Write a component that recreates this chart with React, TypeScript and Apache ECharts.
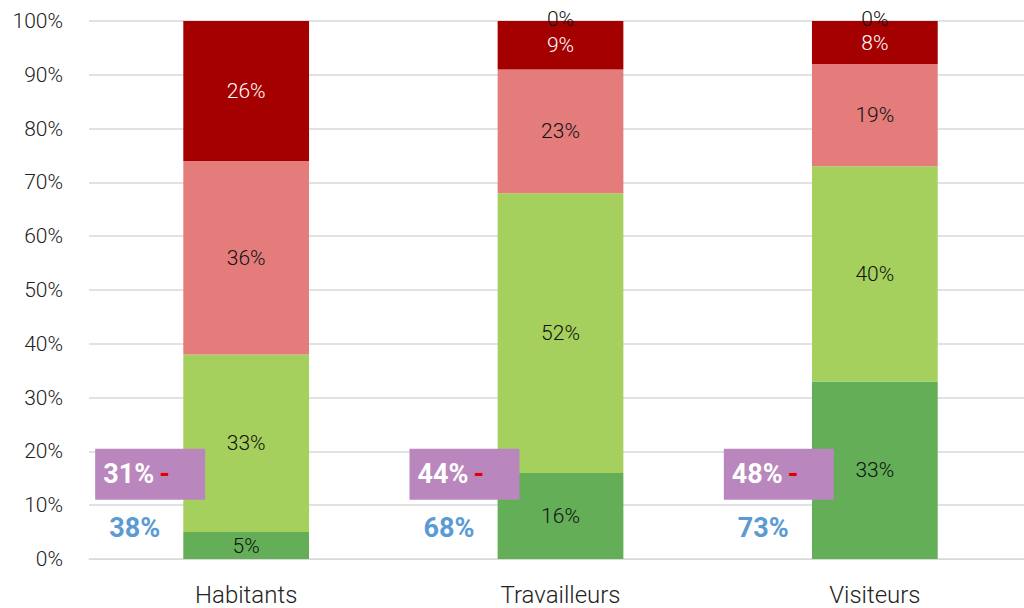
import React, { useEffect, useRef } from "react";
import * as echarts from "echarts";

const categories = ["Habitants", "Travailleurs", "Visiteurs"];
const darkGreen = [5, 16, 33];
const lightGreen = [33, 52, 40];
const pink = [36, 23, 19];
const darkRed = [26, 9, 8];
const zeroTop = [null, 0, 0];
const boxValues = ["31%", "44%", "48%"];
const blueValues = ["38%", "68%", "73%"];
const yTicks = [0, 10, 20, 30, 40, 50, 60, 70, 80, 90, 100];

const FONT = "Roboto";

export default function App() {
  const ref = useRef<HTMLDivElement>(null);
  useEffect(() => {
    const chart = echarts.init(ref.current!, null, { renderer: "svg" });
    const lbl = (color: string) => ({
      show: true,
      position: "inside",
      color,
      fontFamily: FONT,
      fontSize: 21,
      fontWeight: 300,
      formatter: (p: any) => `${p.value}%`,
    });
    const mk = (name: string, data: any[], color: string, lc: string) => ({
      name,
      type: "bar",
      stack: "s",
      data,
      barWidth: "40%",
      itemStyle: { color },
      label: lbl(lc),
    });
    chart.setOption({
      animation: false,
      grid: { left: 89, right: 0, top: 21, bottom: 49 },
      xAxis: {
        type: "category",
        data: categories,
        axisTick: { show: false },
        axisLine: { lineStyle: { color: "#d9d9d9", width: 1 } },
        axisLabel: { color: "#222", fontFamily: FONT, fontSize: 24, fontWeight: 300, margin: 24 },
      },
      yAxis: {
        type: "value",
        min: 0,
        max: 100,
        interval: 10,
        axisLabel: {
          color: "#222",
          fontFamily: FONT,
          fontSize: 21,
          fontWeight: 300,
          margin: 26,
          formatter: (v: number) => (yTicks.includes(v) ? `${v}%` : ""),
        },
        splitLine: { lineStyle: { color: "#d9d9d9", width: 1.5 } },
      },
      series: [
        mk("s1", darkGreen, "#63ae57", "#111"),
        mk("s2", lightGreen, "#a6d05e", "#111"),
        mk("s3", pink, "#e47c7c", "#111"),
        mk("s4", darkRed, "#a50000", "#fff"),
        {
          name: "s5",
          type: "bar",
          stack: "s",
          data: zeroTop,
          barWidth: "40%",
          itemStyle: { color: "#a50000" },
          label: { ...lbl("#111"), offset: [0, -2] },
        },
      ],
    });
    const graphics: any[] = [];
    categories.forEach((c, i) => {
      const cx = chart.convertToPixel({ xAxisIndex: 0 }, c) as number;
      const yTop = chart.convertToPixel({ yAxisIndex: 0 }, 20.5) as number;
      const yBot = chart.convertToPixel({ yAxisIndex: 0 }, 11) as number;
      const yBlue = chart.convertToPixel({ yAxisIndex: 0 }, 5.8) as number;
      graphics.push({
        type: "rect",
        shape: { x: cx - 151, y: yTop, width: 110, height: yBot - yTop },
        style: { fill: "#b986be" },
        z: 100,
      });
      graphics.push({
        type: "text",
        x: cx - 143,
        y: (yTop + yBot) / 2,
        z: 101,
        style: {
          text: `{a|${boxValues[i]}}{b|-}`,
          verticalAlign: "middle",
          rich: {
            a: { fill: "#fff", fontFamily: FONT, fontSize: 27, fontWeight: "bold", width: 56 },
            b: { fill: "#e00000", fontFamily: FONT, fontSize: 27, fontWeight: "bold" },
          },
        },
      });
      graphics.push({
        type: "text",
        x: cx - 137,
        y: yBlue,
        z: 101,
        style: {
          text: blueValues[i],
          fill: "#5b9bd5",
          fontFamily: FONT,
          fontSize: 27,
          fontWeight: "bold",
          verticalAlign: "middle",
        },
      });
    });
    chart.setOption({ graphic: graphics });
    return () => chart.dispose();
  }, []);
  return (
    <div
      ref={ref}
      style={{ position: "fixed", left: 0, top: 0, width: 1032, height: 608, background: "#fff" }}
    />
  );
}
